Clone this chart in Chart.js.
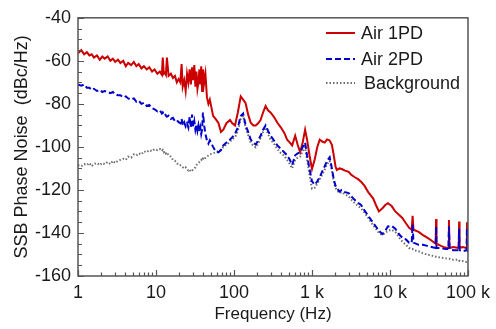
<!DOCTYPE html>
<html lang="en">
<head>
    <meta charset="UTF-8">
    <title>SSB Phase Noise</title>
    <script src="https://cdn.jsdelivr.net/npm/chart.js"></script>
    <style>
        body {
            margin: 0;
            padding: 0;
            background: #fff;
        }
        #wrap {
            width: 496px;
            height: 329px;
        }
    </style>
</head>
<body>

<div id="wrap">
    <canvas id="noiseChart" width="496" height="329"></canvas>
</div>

<script>
    // offset frequency (Hz), shared by all three traces
    const freqHz = [
        1, 1.1, 1.2, 1.3, 1.4, 1.5, 1.6, 1.75, 1.9, 2.05, 2.2, 2.4, 2.6, 2.8, 3.0, 3.25, 3.5, 3.8, 4.1, 4.4,
        4.8, 5.2, 5.6, 6.0, 6.5, 7.0, 7.6, 8.2, 8.9, 9.6, 10.4, 11.2, 11.9, 12.2, 12.6, 13.0, 13.4, 13.8, 14.5, 15.5,
        16.5, 17.5, 18.5, 19.5,
        20.5, 21.3, 22, 23, 24, 25, 26, 27, 28, 29, 30, 31, 32, 33, 34, 35, 36, 37, 38, 39, 40, 41.5, 43, 45, 47, 49,
        54, 58, 63, 68, 73, 80, 89, 95, 103, 112, 122, 131, 141, 152, 164, 177, 190, 204, 219, 236, 254, 273, 294,
        325, 360, 400, 440, 480, 520, 557, 609, 655, 705, 760, 816, 865, 930,
        1000, 1085, 1170, 1257, 1350, 1456, 1560, 1685, 1800, 1900, 2000, 2080, 2250, 2410, 2650, 2950, 3200, 3500,
        3900, 4260, 4700, 5260, 6100, 6600, 7200, 8000, 8700, 9400, 10500, 11700, 13000, 14400, 16000, 17600, 19000,
        19500, 20000, 23300, 26500, 30000, 34000, 38500, 39000, 39500, 45000, 51000, 56000, 57000, 58000, 65000,
        76000, 77000, 78000, 85000, 96000, 97000, 100000
    ];

    // dBc/Hz
    const air1PD = [
        -56.5, -55, -57, -56, -57.5, -57, -58.5, -57.5, -59.5, -58, -59, -58, -60, -59, -60.5, -59.5, -61, -60, -62.5, -61,
        -62, -60.5, -62.5, -61.5, -63.5, -62.5, -64, -63, -65, -64, -66, -65, -66.5, -58.5, -66, -65.5, -66.5, -58.5, -67, -66,
        -68, -67, -70, -68.5,
        -70, -61.5, -72, -69, -74, -66, -70, -64, -71, -63, -69, -62, -72, -65, -73, -70, -64, -71, -62.5, -74, -64, -70, -66, -77, -80, -78,
        -85.6, -87, -88.8, -93, -92, -89, -87.5, -89, -90, -84, -76.5, -78, -79.7, -85, -88.8, -90, -90, -89, -87.5, -84, -81, -83, -84,
        -86, -88.8, -91, -93.4, -96.6, -98, -99.3, -94.8, -99, -102.5, -98, -92, -96.6, -104,
        -110.3, -105.7, -100, -96.6, -97.5, -98, -96.5, -97, -99, -103.9, -109, -110.7, -110, -110.3, -111, -111.6, -113, -114,
        -115, -116.2, -118, -121, -124, -127, -130, -128.5, -127, -126.2, -127.5, -130, -131.5, -133, -135.5, -137.6, -138.5,
        -132, -138.5, -139.5, -141, -142.2, -143.5, -145, -133.5, -145, -146, -146.8, -147, -134, -147, -146.5,
        -147, -134.7, -147, -146.5, -147, -135, -147
    ];

    const air2PD = [
        -71, -71.5, -71, -72.5, -72.5, -73.5, -73, -74, -73.5, -74.5, -74, -74.5, -75, -74.5, -75.5, -76, -76, -77, -76.5, -77.5,
        -78, -77.5, -79, -78.5, -80, -79.5, -81, -80.5, -82, -82.5, -83.5, -83, -84.5, -84, -85, -84.5, -85.5, -86, -85.5, -87,
        -86.5, -88, -87.5, -88.5,
        -89, -87, -90, -88.5, -90.5, -89, -91, -86, -91, -85, -90.5, -88, -92, -89.5, -92.5, -90, -93, -91, -94, -92, -84, -90, -94, -97, -98.5, -97,
        -100, -102, -102.5, -101.5, -99.3, -98, -96.6, -95.5, -94, -91, -85.6, -84.5, -90, -93, -96.6, -98, -98.9, -97, -94.8, -92, -90, -92.5, -94.8,
        -97, -99.3, -101, -102.5, -103.9, -106, -108.4, -103.9, -103, -102.5, -100, -98, -104, -110.3,
        -116, -117.6, -116, -114, -111.5, -109, -106.5, -104.8, -110, -115, -118, -119, -120.8, -120, -121, -121.5, -123, -124.5,
        -126, -127, -129.5, -132, -135.4, -137, -139, -140.5, -139, -137, -136.7, -138, -140.5, -142.2, -143, -144.5, -144.5,
        -136, -144.5, -145.5, -145.5, -146, -146.5, -147, -137, -147, -147, -147.5, -147.5, -137, -147.5, -148,
        -148, -138, -148, -148.5, -148, -138, -149
    ];

    const background = [
        -108.5, -109, -108, -108.5, -107.5, -109, -108, -107.5, -108.5, -107.5, -108, -107, -108, -106.5, -107.5, -106.5, -106, -105.5, -106, -104.5,
        -105, -103.5, -104, -103, -103.5, -102, -102.5, -101.5, -102, -101, -101.5, -101, -102, -101.5, -102.5, -102, -103, -102.5, -104, -104.5,
        -106, -106.5, -107.5, -108.5,
        -108.5, -109, -109.5, -110, -109.5, -110.5, -111, -110.5, -111.5, -111, -110.5, -110, -109.5, -108.5, -108, -107.5, -107, -106.5, -106, -106.5,
        -105.5, -106, -105, -104.5, -104, -103.5,
        -103, -102.5, -102, -101.5, -100, -99, -97.5, -96.5, -95.5, -92.5, -87, -85.5, -91, -94.5, -98, -99.5, -100.2, -98.5, -96, -93, -91, -94, -96.5,
        -98.5, -101, -103, -104, -106, -108, -110, -106, -105, -104.5, -102, -100, -106, -113,
        -119.4, -119, -117, -115, -113, -110.5, -108, -106.5, -111, -116, -119, -120, -121.5, -121, -122, -123, -124.5, -126,
        -127.5, -128.5, -130.5, -133, -136.5, -138, -140, -141, -140, -139, -138.5, -139.5, -142, -144, -145.5, -147, -147.5,
        -147.5, -148, -148.5, -149.5, -150, -150.5, -151, -151, -151, -151.5, -151.8, -152, -152, -152, -152.5,
        -152.5, -152.5, -153, -153, -153.5, -153.5, -153.5
    ];

    const seriesNames = ["Air 1PD", "Air 2PD", "Background"];
    const xTickValues = [1, 10, 100, 1000, 10000, 100000];
    const xTickLabels = ["1", "10", "100", "1 k", "10 k", "100 k"];
    const yTickValues = [-160, -140, -120, -100, -80, -60, -40];

    const FONT = "'Liberation Sans', Arial, sans-serif";
    const AXIS_COLOR = "#555";

    function toPoints(values) {
        return values.map((v, i) => ({ x: freqHz[i], y: v }));
    }

    // inward ticks, frame and the in-plot legend
    const framePlugin = {
        id: "frame",
        afterDraw(chart) {
            const ctx = chart.ctx;
            const area = chart.chartArea;
            const xs = chart.scales.x, ys = chart.scales.y;
            ctx.save();
            ctx.strokeStyle = AXIS_COLOR;
            ctx.lineWidth = 1.5;
            ctx.setLineDash([]);
            ctx.strokeRect(area.left, area.top, area.right - area.left, area.bottom - area.top);

            ctx.lineWidth = 1.2;
            ctx.beginPath();
            for (let d = 1; d < 100000; d *= 10) {
                for (let m = 1; m <= 10; m++) {
                    const px = Math.round(xs.getPixelForValue(m * d)) + 0.5;
                    const len = (m === 1 || m === 10) ? 6 : 3.5;
                    ctx.moveTo(px, area.bottom);
                    ctx.lineTo(px, area.bottom - len);
                }
            }
            for (let v = -160; v <= -40; v += 5) {
                const py = Math.round(ys.getPixelForValue(v)) + 0.5;
                const len = (v % 20 === 0) ? 6 : 4;
                ctx.moveTo(area.left, py);
                ctx.lineTo(area.left + len, py);
            }
            ctx.stroke();

            // legend
            const rows = [33, 59, 83];
            const textX = [361, 361, 364];
            ctx.font = "18px " + FONT;
            ctx.textBaseline = "middle";
            ctx.fillStyle = "#1a1a1a";
            chart.data.datasets.forEach((ds, i) => {
                ctx.beginPath();
                ctx.strokeStyle = ds.borderColor;
                ctx.lineWidth = ds.borderWidth;
                ctx.setLineDash(ds.borderDash || []);
                ctx.moveTo(326, rows[i]);
                ctx.lineTo(355, rows[i]);
                ctx.stroke();
                ctx.fillText(ds.label, textX[i], rows[i] + 1);
            });
            ctx.restore();
        }
    };

    new Chart(document.getElementById("noiseChart"), {
        type: "line",
        data: {
            datasets: [
                { label: seriesNames[0], data: toPoints(air1PD), borderColor: "#cc0000", borderWidth: 2, order: 2 },
                { label: seriesNames[1], data: toPoints(air2PD), borderColor: "#0000cc", borderWidth: 2, borderDash: [6, 3], order: 1 },
                { label: seriesNames[2], data: toPoints(background), borderColor: "#6e6e6e", borderWidth: 2, borderDash: [1.5, 2], order: 3 }
            ]
        },
        options: {
            responsive: false,
            animation: false,
            layout: { padding: { top: 13, right: 23, left: 0, bottom: 0 } },
            elements: { point: { radius: 0 }, line: { tension: 0 } },
            plugins: { legend: { display: false }, tooltip: { enabled: false } },
            scales: {
                x: {
                    type: "logarithmic",
                    min: 1,
                    max: 100000,
                    afterBuildTicks: scale => { scale.ticks = xTickValues.map(v => ({ value: v })); },
                    afterFit: scale => { scale.height = 53; },
                    grid: { display: false, drawTicks: false },
                    border: { display: false },
                    ticks: {
                        autoSkip: false,
                        maxRotation: 0,
                        padding: 6,
                        color: "#1a1a1a",
                        font: { family: FONT, size: 18 },
                        callback: v => xTickLabels[xTickValues.indexOf(v)] ?? ""
                    },
                    title: {
                        display: true,
                        text: "Frequency (Hz)",
                        color: "#1a1a1a",
                        font: { family: FONT, size: 17 },
                        padding: { top: 0, bottom: 4 }
                    }
                },
                y: {
                    min: -160,
                    max: -40,
                    afterBuildTicks: scale => { scale.ticks = yTickValues.map(v => ({ value: v })); },
                    afterFit: scale => { scale.width = 78; },
                    grid: { display: false, drawTicks: false },
                    border: { display: false },
                    ticks: {
                        padding: 7,
                        color: "#1a1a1a",
                        font: { family: FONT, size: 18 }
                    },
                    title: {
                        display: true,
                        text: "SSB Phase Noise  (dBc/Hz)",
                        color: "#1a1a1a",
                        font: { family: FONT, size: 18 },
                        padding: { top: 11, bottom: 0 }
                    }
                }
            }
        },
        plugins: [framePlugin]
    });
</script>

</body>
</html>
